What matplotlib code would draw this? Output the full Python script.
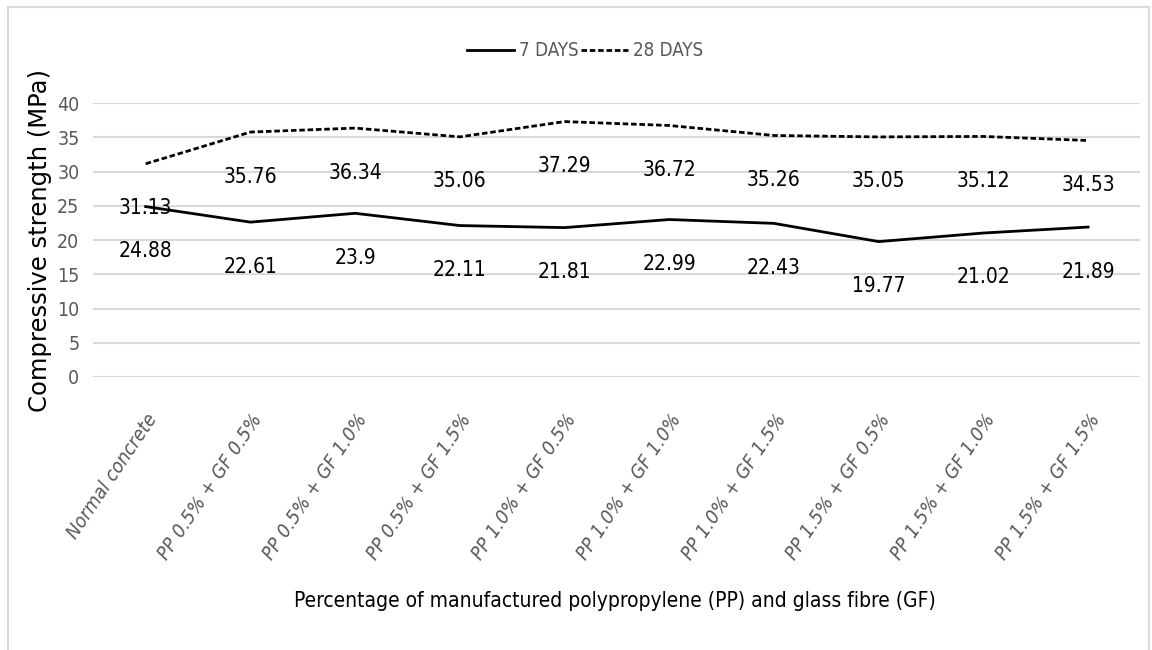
import matplotlib.pyplot as plt
from matplotlib.patches import Rectangle
from matplotlib.font_manager import FontProperties

mixes = ["Normal concrete", "PP 0.5% + GF 0.5%", "PP 0.5% + GF 1.0%", "PP 0.5% + GF 1.5%",
         "PP 1.0% + GF 0.5%", "PP 1.0% + GF 1.0%", "PP 1.0% + GF 1.5%",
         "PP 1.5% + GF 0.5%", "PP 1.5% + GF 1.0%", "PP 1.5% + GF 1.5%"]
days7 = [24.88, 22.61, 23.9, 22.11, 21.81, 22.99, 22.43, 19.77, 21.02, 21.89]
days28 = [31.13, 35.76, 36.34, 35.06, 37.29, 36.72, 35.26, 35.05, 35.12, 34.53]


def cond(size, **kw):
    return FontProperties(family='DejaVu Sans', stretch='condensed', size=size, **kw)


fig = plt.figure(figsize=(11.52, 6.5), dpi=100)
fig.patches.append(Rectangle((0.007, -0.01), 0.99, 1.0, transform=fig.transFigure,
                             fill=False, edgecolor='#d9d9d9', linewidth=1.5))
ax = fig.add_axes([0.081, 0.42, 0.909, 0.4215])

x = range(len(mixes))
ax.plot(x, days7, color='black', linewidth=2, label='7 DAYS')
ax.plot(x, days28, color='black', linewidth=2, linestyle=(0, (2, 1)), label='28 DAYS')

for i in x:
    ax.annotate(str(days7[i]), (i, days7[i]), xytext=(0, -32), textcoords='offset points',
                ha='center', va='center', fontproperties=cond(15), color='black')
    ax.annotate(str(days28[i]), (i, days28[i]), xytext=(0, -32), textcoords='offset points',
                ha='center', va='center', fontproperties=cond(15), color='black')

ax.set_xlim(-0.5, len(mixes) - 0.5)
ax.set_ylim(0, 40)
ax.set_yticks(range(0, 41, 5))
ax.grid(axis='y', color='#d9d9d9', linewidth=1.5)
ax.set_axisbelow(True)
for s in ax.spines.values():
    s.set_visible(False)
ax.tick_params(length=0)
ax.set_xticks(list(x))
ax.set_xticklabels(mixes, rotation=56, ha='right', va='top', rotation_mode='anchor',
                   fontproperties=cond(14, style='italic'), color='#595959')
for lab in ax.get_yticklabels():
    lab.set_fontproperties(cond(14))
    lab.set_color('#595959')
ax.tick_params(axis='x', pad=24)
ax.tick_params(axis='y', pad=10)

ax.set_ylabel('Compressive strength (MPa)', fontsize=17.5, family='DejaVu Sans', labelpad=4)
fig.text(0.534, 0.075, 'Percentage of manufactured polypropylene (PP) and glass fibre (GF)',
         ha='center', va='center', fontproperties=cond(15))

fig.legend(loc='center', bbox_to_anchor=(0.508, 0.922), ncol=2, frameon=False,
           prop=cond(13.5), handlelength=2.5,
           columnspacing=0.1, handletextpad=0.3, labelcolor='#595959')

fig.savefig('out.png', dpi=100)
